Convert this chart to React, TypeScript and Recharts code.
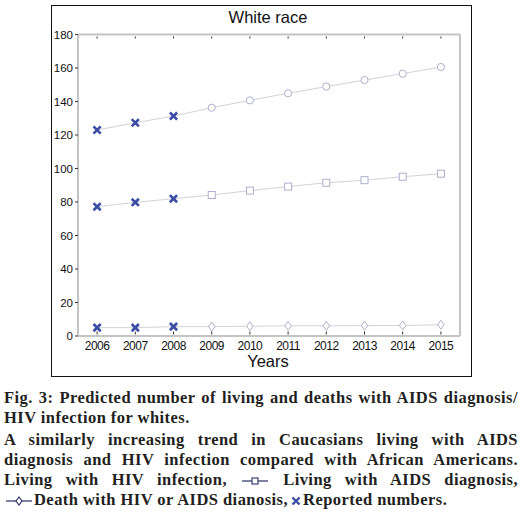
import React from 'react';
import { ComposedChart, Line, XAxis, YAxis } from 'recharts';

const years = ['2006', '2007', '2008', '2009', '2010', '2011', '2012', '2013', '2014', '2015'];
const hivLiving = [123, 127.3, 131.3, 136.3, 140.7, 144.9, 148.9, 152.8, 156.6, 160.6];
const aidsLiving = [77.2, 79.8, 82, 84.2, 86.8, 89.2, 91.5, 93, 95.1, 96.9];
const deaths = [5, 5, 5.6, 5.6, 5.8, 6.1, 6.1, 6.2, 6.3, 6.7];
const reportedHiv = [123, 127.3, 131.3];
const reportedAids = [77.2, 79.8, 82];
const reportedDeaths = [5, 5, 5.6];
const yTicks = [0, 20, 40, 60, 80, 100, 120, 140, 160, 180];

const data = years.map((year, i) => ({
  year,
  hiv: hivLiving[i],
  aids: aidsLiving[i],
  deaths: deaths[i],
  repHiv: reportedHiv[i] ?? null,
  repAids: reportedAids[i] ?? null,
  repDeaths: reportedDeaths[i] ?? null,
}));

const LINE = '#d2d2da';
const MARK = '#a4a6c8';
const BLUE = '#3a4ca4';
const AXIS = '#c4c4c4';
const TICK = '#333';
const SANS = '"Liberation Sans", Arial, Helvetica, sans-serif';

// predicted markers are hidden where a reported value sits on top
const hasReport = (index: number) => index < reportedHiv.length;

// eslint-disable-next-line @typescript-eslint/no-explicit-any
function CircleDot({ cx, cy, index }: any) {
  if (cx == null || cy == null || hasReport(index)) return <g key={`c${index}`} />;
  return <circle key={`c${index}`} cx={cx} cy={cy} r={3.6} fill="#fff" stroke={MARK} strokeWidth={0.9} />;
}

// eslint-disable-next-line @typescript-eslint/no-explicit-any
function SquareDot({ cx, cy, index }: any) {
  if (cx == null || cy == null || hasReport(index)) return <g key={`s${index}`} />;
  return <rect key={`s${index}`} x={cx - 3.5} y={cy - 3.5} width={7} height={7} fill="#fff" stroke={MARK} strokeWidth={0.9} />;
}

// eslint-disable-next-line @typescript-eslint/no-explicit-any
function DiamondDot({ cx, cy, index }: any) {
  if (cx == null || cy == null || hasReport(index)) return <g key={`d${index}`} />;
  return (
    <path
      key={`d${index}`}
      d={`M${cx},${cy - 4.5}L${cx + 3.2},${cy}L${cx},${cy + 4.5}L${cx - 3.2},${cy}Z`}
      fill="#fff"
      stroke={MARK}
      strokeWidth={0.9}
    />
  );
}

// eslint-disable-next-line @typescript-eslint/no-explicit-any
function CrossDot({ cx, cy, index, value }: any) {
  if (cx == null || cy == null || value == null) return <g key={`x${index}`} />;
  const s = 3.6;
  return (
    <path
      key={`x${index}`}
      d={`M${cx - s},${cy - s}L${cx + s},${cy + s}M${cx + s},${cy - s}L${cx - s},${cy + s}`}
      stroke={BLUE}
      strokeWidth={2.6}
    />
  );
}

// eslint-disable-next-line @typescript-eslint/no-explicit-any
function BottomTick({ x, y, payload }: any) {
  return (
    <g>
      <line x1={x} x2={x} y1={y - 1.5} y2={y - 4.5} stroke={TICK} strokeWidth={1} />
      <text x={x} y={y + 14} textAnchor="middle" fontSize={12} letterSpacing={-0.5} fill="#111" fontFamily={SANS}>
        {payload.value}
      </text>
    </g>
  );
}

// eslint-disable-next-line @typescript-eslint/no-explicit-any
function TopTick({ x, y }: any) {
  return <line x1={x} x2={x} y1={y + 2} y2={y + 4} stroke={TICK} strokeWidth={1} />;
}

// eslint-disable-next-line @typescript-eslint/no-explicit-any
function RightTick({ x, y }: any) {
  return <line x1={x - 2} x2={x - 4} y1={y} y2={y} stroke={TICK} strokeWidth={1} />;
}

function LineIcon({ shape }: { shape: 'square' | 'diamond' }) {
  return (
    <svg width={26} height={10} style={{ verticalAlign: 'middle', margin: '0 2px' }}>
      <line x1={0} x2={26} y1={5} y2={5} stroke="#2a2f6a" strokeWidth={1.2} />
      {shape === 'square' ? (
        <rect x={10} y={2} width={6} height={6} fill="#fff" stroke="#2a2f6a" strokeWidth={1.1} />
      ) : (
        <path d="M13,1L16,5L13,9L10,5Z" fill="#fff" stroke="#2a2f6a" strokeWidth={1.1} />
      )}
    </svg>
  );
}

function CrossIcon() {
  return (
    <svg width={10} height={10} style={{ verticalAlign: 'middle', margin: '0 2px 0 3px' }}>
      <path d="M1.5,1.5L8.5,8.5M8.5,1.5L1.5,8.5" stroke={BLUE} strokeWidth={2.4} />
    </svg>
  );
}

const full: React.CSSProperties = { textAlign: 'justify', textAlignLast: 'justify', whiteSpace: 'nowrap' };

export default function App() {
  return (
    <div style={{ position: 'absolute', left: 0, top: 0, width: 524, height: 513, background: '#fff' }}>
      <div
        style={{
          position: 'absolute',
          left: 51,
          top: 5,
          width: 419,
          height: 370,
          border: '1.5px solid #111',
        }}
      />
      <div
        style={{
          position: 'absolute',
          left: 51,
          top: 8,
          width: 434,
          textAlign: 'center',
          fontFamily: SANS,
          fontSize: 16.5,
          color: '#111',
        }}
      >
        White race
      </div>
      <div
        style={{
          position: 'absolute',
          left: 51,
          top: 352,
          width: 434,
          textAlign: 'center',
          fontFamily: SANS,
          fontSize: 16.5,
          color: '#111',
        }}
      >
        Years
      </div>
      <div style={{ position: 'absolute', left: 51, top: 6 }}>
        <ComposedChart width={420} height={371} data={data} margin={{ top: 27.5, right: 0, left: 0, bottom: 0 }}>
          <XAxis
            xAxisId="t"
            orientation="top"
            dataKey="year"
            scale="band"
            height={1}
            tickSize={0}
            tickMargin={0}
            axisLine={{ stroke: AXIS, strokeWidth: 2 }}
            tickLine={false}
            tick={<TopTick />}
            interval={0}
          />
          <XAxis
            xAxisId="b"
            dataKey="year"
            scale="band"
            height={41}
            tickSize={0}
            tickMargin={0}
            axisLine={{ stroke: AXIS, strokeWidth: 2 }}
            tickLine={false}
            tick={<BottomTick />}
            interval={0}
          />
          <YAxis
            yAxisId="l"
            domain={[0, 180]}
            ticks={yTicks}
            width={27}
            tickSize={3}
            tickMargin={2}
            axisLine={{ stroke: AXIS, strokeWidth: 2 }}
            tickLine={{ stroke: TICK }}
            tick={{ fontSize: 11.5, fill: '#111', fontFamily: SANS }}
            interval={0}
          />
          <YAxis
            yAxisId="r"
            orientation="right"
            domain={[0, 180]}
            ticks={yTicks}
            width={11}
            tickSize={0}
            tickMargin={0}
            axisLine={{ stroke: AXIS, strokeWidth: 2 }}
            tickLine={false}
            tick={<RightTick />}
            interval={0}
          />
          <Line xAxisId="b" yAxisId="l" dataKey="hiv" stroke={LINE} strokeWidth={1} dot={CircleDot} isAnimationActive={false} />
          <Line xAxisId="b" yAxisId="l" dataKey="aids" stroke={LINE} strokeWidth={1} dot={SquareDot} isAnimationActive={false} />
          <Line xAxisId="b" yAxisId="l" dataKey="deaths" stroke={LINE} strokeWidth={1} dot={DiamondDot} isAnimationActive={false} />
          <Line xAxisId="b" yAxisId="l" dataKey="repHiv" stroke="none" dot={CrossDot} isAnimationActive={false} />
          <Line xAxisId="b" yAxisId="l" dataKey="repAids" stroke="none" dot={CrossDot} isAnimationActive={false} />
          <Line xAxisId="b" yAxisId="l" dataKey="repDeaths" stroke="none" dot={CrossDot} isAnimationActive={false} />
        </ComposedChart>
      </div>
      <div
        style={{
          position: 'absolute',
          left: 4,
          top: 388,
          width: 514,
          fontFamily: '"Liberation Serif", "Times New Roman", serif',
          fontWeight: 700,
          fontSize: 16.5,
          letterSpacing: 0.45,
          lineHeight: '20px',
          color: '#231f20',
        }}
      >
        <div style={full}>Fig. 3: Predicted number of living and deaths with AIDS diagnosis/</div>
        <div>HIV infection for whites.</div>
        <div style={{ ...full, marginTop: 2 }}>A similarly increasing trend in Caucasians living with AIDS</div>
        <div style={full}>diagnosis and HIV infection compared with African Americans.</div>
        <div style={full}>
          Living with HIV infection, <LineIcon shape="square" /> Living with AIDS diagnosis,
        </div>
        <div>
          <LineIcon shape="diamond" />
          Death with HIV or AIDS dianosis,
          <CrossIcon />
          Reported numbers.
        </div>
      </div>
    </div>
  );
}
